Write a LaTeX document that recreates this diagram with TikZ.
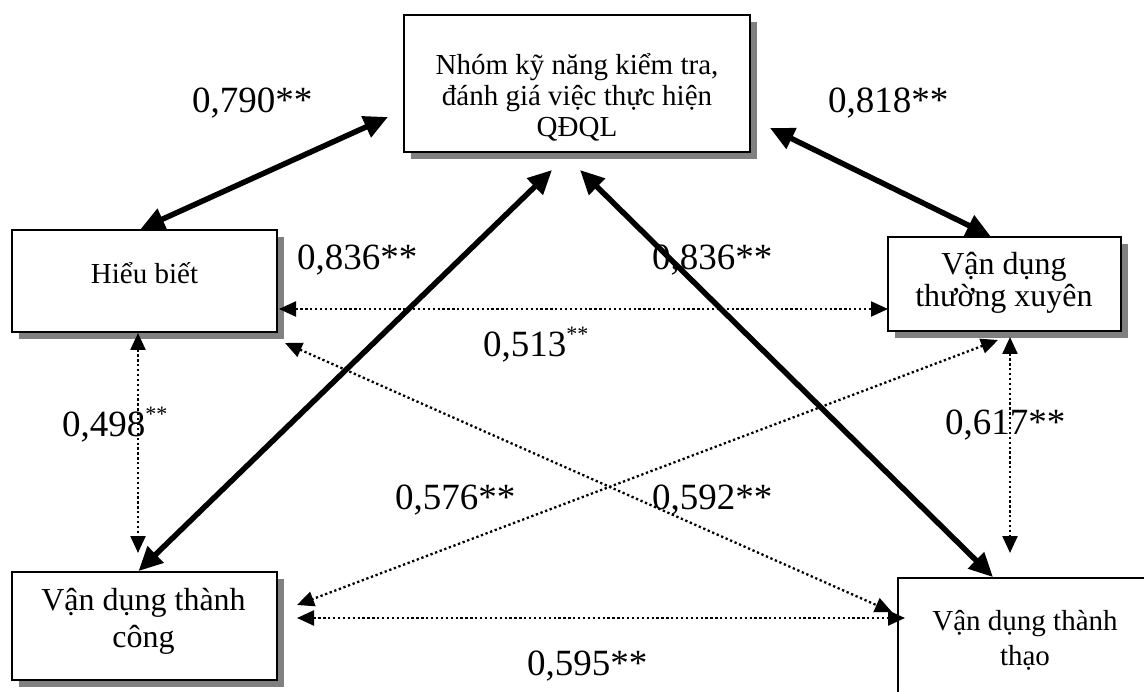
\documentclass[tikz,border=0pt]{standalone}
\usepackage{fontspec}
\setmainfont{Liberation Serif}
\usetikzlibrary{arrows.meta,shadows}
\begin{document}
\begin{tikzpicture}[x=1pt,y=-1pt,
  box/.style={draw=black,line width=1.8pt,fill=white,rectangle,inner sep=0pt,
    drop shadow={shadow xshift=7pt,shadow yshift=-7pt,fill=black!50,opacity=1}},
  txt/.style={anchor=base,inner sep=0pt},
  num/.style={anchor=base west,inner sep=0pt,font=\fontsize{37}{37}\selectfont},
  strongarrow/.style={line width=5.5pt,{Triangle[length=24pt,width=22pt]}-{Triangle[length=24pt,width=22pt]}},
  dotarrow/.style={line width=2.3pt,dash pattern=on 2.3pt off 2.6pt,{Triangle[length=17pt,width=15pt]}-{Triangle[length=17pt,width=15pt]}}
]
\useasboundingbox (0,0) rectangle (1144,692);
\clip (0,0) rectangle (1144,692);
\fill[white] (0,0) rectangle (1144,692);

% boxes
\node[box,minimum width=346pt,minimum height=137pt] (top) at (577,83.5) {};
\node[box,minimum width=265pt,minimum height=102pt] (hb) at (144.5,281) {};
\node[box,minimum width=233pt,minimum height=94pt] (vdtx) at (1004.5,284) {};
\node[box,minimum width=265pt,minimum height=108pt] (vdtc) at (144.5,626) {};
\node[box,minimum width=254pt,minimum height=142pt] (vdtt) at (1025,649) {};

% box texts
\begin{scope}[font=\fontsize{29}{29}\selectfont]
\node[txt] (t1) at (577,75) {Nhóm kỹ năng kiểm tra,};
\node[txt] (t2) at (577,106) {đánh giá việc thực hiện};
\node[txt] (t3) at (577,137) {QĐQL};
\node[txt] (h1) at (144.5,284) {Hiểu biết};
\node[txt] (tt1) at (1025,630) {Vận dụng thành};
\node[txt] (tt2) at (1025,665) {thạo};
\end{scope}
\begin{scope}[font=\fontsize{32}{32}\selectfont]
\node[txt] (x1) at (1004,275) {Vận dụng};
\node[txt] (x2) at (1004,307) {thường xuyên};
\node[txt] (c1) at (143.5,610) {Vận dụng thành};
\node[txt] (c2) at (143.5,647) {công};
\end{scope}

% free ends
\coordinate (e1) at (388,117);
\coordinate (e2) at (770,128);
\coordinate (e3) at (552,170);
\coordinate (e4) at (580,170);
\coordinate (d1a) at (279,309);
\coordinate (d1b) at (888,309);
\coordinate (d2a) at (285,343);
\coordinate (d2b) at (892,612);
\coordinate (d3a) at (998,340);
\coordinate (d3b) at (297,605);
\coordinate (d4a) at (138,333);
\coordinate (d4b) at (138,553);
\coordinate (d5a) at (1010,337);
\coordinate (d5b) at (1010,553);
\coordinate (d6a) at (297,618);
\coordinate (d6b) at (905,618);

% thick arrows
\draw[strongarrow] (e1) -- ([xshift=-4pt]hb.north);
\draw[strongarrow] (e2) -- ([xshift=-14pt]vdtx.north);
\draw[strongarrow] (e3) -- ([xshift=-6pt]vdtc.north);
\draw[strongarrow] (e4) -- ([xshift=-32pt]vdtt.north);

% dotted arrows
\draw[dotarrow] (d1a) -- (d1b);
\draw[dotarrow] (d2a) -- (d2b);
\draw[dotarrow] (d3a) -- (d3b);
\draw[dotarrow] (d4a) -- (d4b);
\draw[dotarrow] (d5a) -- (d5b);
\draw[dotarrow] (d6a) -- (d6b);

% labels
\node[num] (l790) at (192,113) {0,790**};
\node[num] (l818) at (828,113) {0,818**};
\node[num] (l836a) at (297,270) {0,836**};
\node[num] (l836b) at (652,270) {0,836**};
\node[num] (l513) at (483,357) {0,513\raisebox{15pt}{\fontsize{22}{22}\selectfont **}};
\node[num] (l498) at (62,437) {0,498\raisebox{15pt}{\fontsize{22}{22}\selectfont **}};
\node[num] (l617) at (945,435) {0,617**};
\node[num] (l576) at (395,510) {0,576**};
\node[num] (l592) at (652,510) {0,592**};
\node[num] (l595) at (527,675) {0,595**};
\end{tikzpicture}
\end{document}
